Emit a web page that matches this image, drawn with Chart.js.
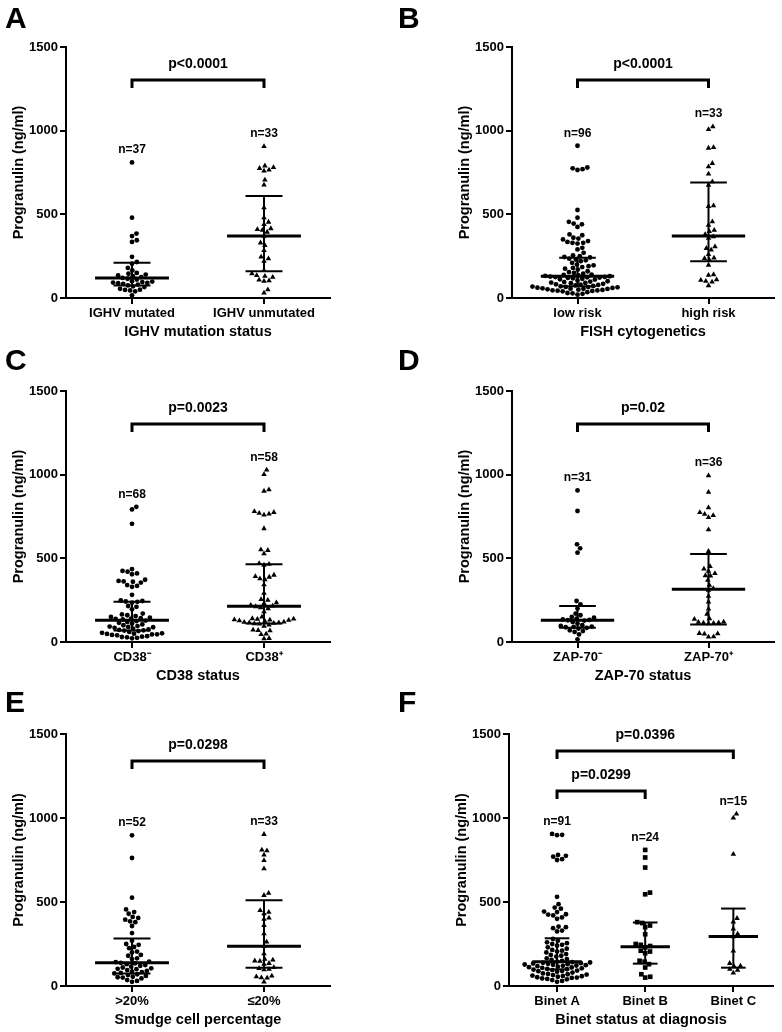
<!DOCTYPE html>
<html><head><meta charset="utf-8">
<script src="https://cdn.jsdelivr.net/npm/chart.js@4.4.1/dist/chart.umd.min.js"></script>
<style>
html,body{margin:0;padding:0;background:#fff;}
#wrap{position:relative;width:782px;height:1032px;overflow:hidden;background:#fff;}
#wrap canvas{position:absolute;}
</style></head><body><div id="wrap"></div>
<script>
// ---------------- DATA ----------------
// Panel A
const A_labels = ['IGHV mutated', 'IGHV unmutated'];
const A_title = 'IGHV mutation status';
const A_mutated = [810, 480, 385, 370, 345, 335, 246, 215, 205, 180, 165, 150, 145, 140, 135, 130, 125, 120, 115, 110, 100, 98, 95, 92, 90, 88, 85, 80, 75, 70, 65, 55, 50, 48, 45, 40, 16];
const A_unmutated = [906, 790, 780, 775, 765, 760, 706, 676, 540, 480, 454, 440, 415, 410, 405, 394, 370, 330, 314, 284, 245, 235, 220, 165, 145, 135, 130, 125, 108, 104, 100, 50, 30];
const A_median = [120, 370];
const A_q1 = [75, 160];
const A_q3 = [210, 610];
const A_n = [37, 33];
const A_p = ['p<0.0001'];

// Panel B
const B_labels = ['low risk', 'high risk'];
const B_title = 'FISH cytogenetics';
const B_low = [910, 780, 775, 770, 765, 526, 480, 455, 445, 440, 425, 380, 375, 360, 355, 350, 340, 335, 330, 330, 325,
  300, 290, 270, 255, 250, 245, 242,
  235, 230, 225, 220, 210, 200, 195, 190, 185, 180, 175, 170, 160, 155, 150, 145, 140, 138, 135, 132,
  130, 128, 126, 125, 124, 122, 120, 118, 115, 112, 110, 105, 100, 98, 95, 92, 90, 88, 85, 82, 80, 78, 75, 72,
  70, 68, 66, 65, 64, 62, 60, 58, 56, 55, 54, 52, 50, 48, 46, 45, 44, 42, 40, 35, 30, 28, 25, 20];
const B_high = [1024, 1008, 900, 896, 805, 785, 741, 695, 675, 552, 548, 456, 436, 405, 398, 380, 367, 357, 307, 297, 287, 261, 240, 236, 227, 197, 140, 137, 110, 106, 100, 96, 74];
const B_median = [130, 370];
const B_q1 = [70, 220];
const B_q3 = [240, 690];
const B_n = [96, 33];
const B_p = ['p<0.0001'];

// Panel C
const C_labels = ['CD38\u207B', 'CD38\u207A'];
const C_title = 'CD38 status';
const C_neg = [808, 792, 706, 436, 425, 420, 410, 405, 372, 365, 362, 360, 355, 340, 335, 330, 282, 248, 245, 242, 240, 235, 215, 210, 195,
  170, 165, 160, 155, 150, 145, 142, 140, 138, 135, 128, 125, 120, 115, 110, 105, 100, 95, 92, 90, 88, 85, 80, 75, 72, 70,
  68, 65, 60, 55, 52, 50, 48, 46, 45, 42, 40, 35, 32, 30, 28, 25, 22];
const C_pos = [1028, 1002, 910, 902, 780, 775, 770, 765, 760, 678, 552, 548, 528, 470, 465, 460, 400, 392, 388, 378, 372, 342, 292,
  255, 250, 235, 230, 220, 215, 212, 205, 200, 182, 150, 140, 138, 136, 134, 132, 130, 128, 125, 120, 118, 116, 115, 112, 110, 108,
  102, 95, 72, 70, 68, 48, 45, 22, 20];
const C_median = [130, 213];
const C_q1 = [68, 110];
const C_q3 = [240, 465];
const C_n = [68, 58];
const C_p = ['p=0.0023'];

// Panel D
const D_labels = ['ZAP-70\u207B', 'ZAP-70\u207A'];
const D_title = 'ZAP-70 status';
const D_neg = [906, 783, 584, 560, 534, 245, 225, 200, 170, 160, 150, 145, 140, 135, 132, 130, 128, 120, 110, 100, 96, 92, 90, 88, 85, 80, 70, 65, 60, 45, 16];
const D_pos = [994, 895, 803, 774, 764, 756, 744, 671, 542, 452, 437, 423, 410, 397, 395, 369, 340, 320,
  310, 274, 240, 198, 167, 140, 137, 120, 118, 116, 114, 112, 110, 52, 50, 48, 32, 30];
const D_median = [130, 315];
const D_q1 = [85, 105];
const D_q3 = [215, 526];
const D_n = [31, 36];
const D_p = ['p=0.02'];

// Panel E
const E_labels = ['>20%', '\u226420%'];
const E_title = 'Smudge cell percentage';
const E_gt = [897, 762, 526, 456, 440, 430, 411, 405, 395, 385, 380, 357, 315,
  270, 250, 245, 232, 225, 205, 200, 185, 180, 165, 160, 145, 142,
  138, 135, 130, 125, 120, 115, 110, 105, 102, 100, 95, 90, 85, 82, 78, 75, 70, 65, 60, 55, 52, 50, 45, 35, 30, 25];
const E_le = [903, 810, 805, 780, 748, 698, 553, 540, 450, 440, 430, 405, 398, 361, 311, 262, 236,
  192, 160, 155, 150, 148, 135, 130, 110, 105, 100, 98, 60, 55, 50, 48, 24];
const E_median = [139, 236];
const E_q1 = [75, 109];
const E_q3 = [282, 510];
const E_n = [52, 33];
const E_p = ['p=0.0298'];

// Panel F
const F_labels = ['Binet A', 'Binet B', 'Binet C'];
const F_title = 'Binet status at diagnosis';
const F_A = [905, 900, 898, 780, 775, 770, 755, 750, 531, 487, 467, 460, 443, 440, 427, 425, 420, 408, 400, 354, 350, 344, 330, 325,
  280, 270, 260, 255, 250, 245, 240, 230, 222, 215, 210, 205, 200, 190, 185, 180, 175, 165, 160, 155, 150,
  145, 142, 140, 138, 136, 134, 132, 130, 128, 126, 124, 122, 120, 118, 115, 112, 110, 108, 105, 102,
  100, 98, 95, 92, 90, 88, 85, 80, 75, 72, 70, 68, 65, 62, 60, 58, 55, 52, 50, 48, 45, 42, 40, 35, 30, 25];
const F_B = [810, 765, 705, 556, 546, 380, 375, 360, 350, 308, 250, 245, 238, 230, 210, 205, 195, 150, 145, 130, 110, 70, 55, 50];
const F_C = [1024, 1000, 785, 403, 382, 340, 310, 294, 209, 135, 120, 118, 100, 95, 78];
const F_median = [145, 233, 294];
const F_q1 = [99, 133, 109];
const F_q3 = [284, 378, 461];
const F_n = [91, 24, 15];
const F_p = ['p=0.0299', 'p=0.0396'];

const Y_TICKS = [0, 500, 1000, 1500];
const Y_TITLE = 'Progranulin (ng/ml)';

// ---------------- RENDER ----------------
const FONT = "'Liberation Sans', Arial, Helvetica, sans-serif";
Chart.defaults.font.family = FONT;
Chart.defaults.color = '#000';

const CW = 391, CH = 344;

const panels = [
  {id:'A', left:0, top:0, labels:A_labels, title:A_title, groups:[A_mutated, A_unmutated], styles:['circle','triangle'],
   median:A_median, q1:A_q1, q3:A_q3, n:A_n, brackets:[{from:1,to:2,y:1303,text:A_p[0]}],
   pad:{left:0,right:61,top:47}, xmin:0.5, xmax:2.5, letter:[5,28]},
  {id:'B', left:391, top:0, labels:B_labels, title:B_title, groups:[B_low, B_high], styles:['circle','triangle'],
   median:B_median, q1:B_q1, q3:B_q3, n:B_n, brackets:[{from:1,to:2,y:1303,text:B_p[0]}],
   pad:{left:55,right:8,top:47}, xmin:0.5, xmax:2.5, letter:[7,28]},
  {id:'C', left:0, top:344, labels:C_labels, title:C_title, groups:[C_neg, C_pos], styles:['circle','triangle'],
   median:C_median, q1:C_q1, q3:C_q3, n:C_n, brackets:[{from:1,to:2,y:1303,text:C_p[0]}],
   pad:{left:0,right:61,top:47}, xmin:0.5, xmax:2.5, letter:[5,26]},
  {id:'D', left:391, top:344, labels:D_labels, title:D_title, groups:[D_neg, D_pos], styles:['circle','triangle'],
   median:D_median, q1:D_q1, q3:D_q3, n:D_n, brackets:[{from:1,to:2,y:1303,text:D_p[0]}],
   pad:{left:55,right:8,top:47}, xmin:0.5, xmax:2.5, letter:[7,26]},
  {id:'E', left:0, top:688, labels:E_labels, title:E_title, groups:[E_gt, E_le], styles:['circle','triangle'],
   median:E_median, q1:E_q1, q3:E_q3, n:E_n, brackets:[{from:1,to:2,y:1340,text:E_p[0]}],
   pad:{left:0,right:61,top:46}, xmin:0.5, xmax:2.5, letter:[5,24]},
  {id:'F', left:391, top:688, labels:F_labels, title:F_title, groups:[F_A, F_B, F_C], styles:['circle','rect','triangle'],
   median:F_median, q1:F_q1, q3:F_q3, n:F_n, brackets:[{from:1,to:2,y:1161,text:F_p[0]},{from:1,to:3,y:1399,text:F_p[1]}],
   pad:{left:52,right:9,top:46}, xmin:0.455, xmax:3.45, letter:[7,24]}
];

const RADIUS = {circle:2.4, triangle:3.2, rect:3.3};

// beeswarm layout (pixel space) -> offsets in x data units
function swarm(values, pxX, pxY, d) {
  const idx = values.map((v, i) => i).sort((a, b) => values[a] - values[b]);
  const placed = [];
  const out = new Array(values.length).fill(0);
  for (const i of idx) {
    const y = values[i] * pxY;
    const near = placed.filter(p => Math.abs(p.y - y) < d);
    const cands = [0];
    for (const p of near) {
      const dx = Math.sqrt(d * d - (p.y - y) * (p.y - y));
      cands.push(p.x + dx, p.x - dx);
    }
    cands.sort((a, b) => Math.abs(a) - Math.abs(b));
    let best = 0;
    for (const c of cands) {
      if (near.every(p => (p.x - c) * (p.x - c) + (p.y - y) * (p.y - y) >= d * d - 0.01)) { best = c; break; }
    }
    placed.push({x: best, y});
    out[i] = best / pxX;
  }
  return out;
}

const wrap = document.getElementById('wrap');

panels.forEach(P => {
  const c = document.createElement('canvas');
  c.width = CW; c.height = CH;
  c.style.left = P.left + 'px'; c.style.top = P.top + 'px';
  c.style.width = CW + 'px'; c.style.height = CH + 'px';
  wrap.appendChild(c);

  const areaW = CW - P.pad.left - 66 - P.pad.right;
  const areaH = CH - 46 - P.pad.top;
  const pxX = areaW / (P.xmax - P.xmin);
  const pxY = areaH / 1500;

  const datasets = [];
  const line = (pts, w) => ({data: pts, showLine: true, borderColor: '#000', borderWidth: w,
    pointRadius: 0, pointHoverRadius: 0, order: 0, clip: false, borderCapStyle: 'butt', tension: 0});
  P.groups.forEach((vals, gi) => {
    const cx = gi + 1;
    const offs = swarm(vals, pxX, pxY, 5.1);
    const st = P.styles[gi];
    datasets.push({data: vals.map((v, i) => ({x: cx + offs[i], y: v})), pointStyle: st,
      pointRadius: RADIUS[st], pointHoverRadius: RADIUS[st], backgroundColor: '#000', borderColor: '#000',
      borderWidth: 0, order: 1, clip: false});
    datasets.push(line([{x: cx - 0.28, y: P.median[gi]}, {x: cx + 0.28, y: P.median[gi]}], 3));
    datasets.push(line([{x: cx - 0.14, y: P.q1[gi]}, {x: cx + 0.14, y: P.q1[gi]}], 2));
    datasets.push(line([{x: cx - 0.14, y: P.q3[gi]}, {x: cx + 0.14, y: P.q3[gi]}], 2));
    datasets.push(line([{x: cx, y: P.q1[gi]}, {x: cx, y: P.q3[gi]}], 2));
  });

  const annot = {
    id: 'annot' + P.id,
    afterDraw(chart) {
      const ctx = chart.ctx, xs = chart.scales.x, ys = chart.scales.y;
      ctx.save();
      ctx.fillStyle = '#000'; ctx.strokeStyle = '#000';
      ctx.textAlign = 'center'; ctx.textBaseline = 'middle';
      ctx.font = `bold 12px ${FONT}`;
      P.groups.forEach((vals, gi) => {
        const top = Math.max(...vals);
        ctx.fillText('n=' + P.n[gi], xs.getPixelForValue(gi + 1), ys.getPixelForValue(top) - 12.5);
      });
      P.brackets.forEach(b => {
        const x1 = xs.getPixelForValue(b.from), x2 = xs.getPixelForValue(b.to), y = ys.getPixelForValue(b.y);
        ctx.lineWidth = 3; ctx.lineJoin = 'miter'; ctx.lineCap = 'butt';
        ctx.beginPath(); ctx.moveTo(x1, y + 8); ctx.lineTo(x1, y); ctx.lineTo(x2, y); ctx.lineTo(x2, y + 8); ctx.stroke();
        ctx.font = `bold 14px ${FONT}`;
        ctx.fillText(b.text, (x1 + x2) / 2, y - 16);
      });
      ctx.font = `bold 30px ${FONT}`;
      ctx.textAlign = 'left'; ctx.textBaseline = 'alphabetic';
      ctx.fillText(P.id, P.letter[0], P.letter[1]);
      ctx.restore();
    }
  };

  new Chart(c, {
    type: 'scatter',
    data: {datasets},
    options: {
      responsive: false, animation: false, devicePixelRatio: 1, events: [],
      layout: {padding: {left: P.pad.left, right: P.pad.right, top: P.pad.top, bottom: 0}},
      plugins: {legend: {display: false}, tooltip: {enabled: false}},
      scales: {
        x: {
          type: 'linear', position: 'bottom', min: P.xmin, max: P.xmax,
          afterBuildTicks: s => { s.ticks = P.labels.map((l, i) => ({value: i + 1})); },
          afterFit: s => { s.height = 46; },
          ticks: {autoSkip: false, maxRotation: 0, minRotation: 0, padding: 2, color: '#000',
            font: {size: 13, weight: 'bold'}, callback: v => P.labels[Math.round(v) - 1]},
          grid: {drawOnChartArea: false, drawTicks: true, tickLength: 6, color: '#000', lineWidth: 2},
          border: {display: true, color: '#000', width: 2},
          title: {display: true, text: P.title, color: '#000', font: {size: 14.5, weight: 'bold'}, padding: {top: 0, bottom: 3}}
        },
        y: {
          type: 'linear', position: 'left', min: 0, max: 1500,
          afterBuildTicks: s => { s.ticks = Y_TICKS.map(v => ({value: v})); },
          afterFit: s => { s.width = 66; },
          ticks: {padding: 2, color: '#000', font: {size: 13, weight: 'bold'}, callback: v => String(v)},
          grid: {drawOnChartArea: false, drawTicks: true, tickLength: 6, color: '#000', lineWidth: 2},
          border: {display: true, color: '#000', width: 2},
          title: {display: true, text: Y_TITLE, color: '#000', font: {size: 14.5, weight: 'bold'}, padding: {top: 10, bottom: 0}}
        }
      }
    },
    plugins: [annot]
  });
});
</script>
</body></html>
